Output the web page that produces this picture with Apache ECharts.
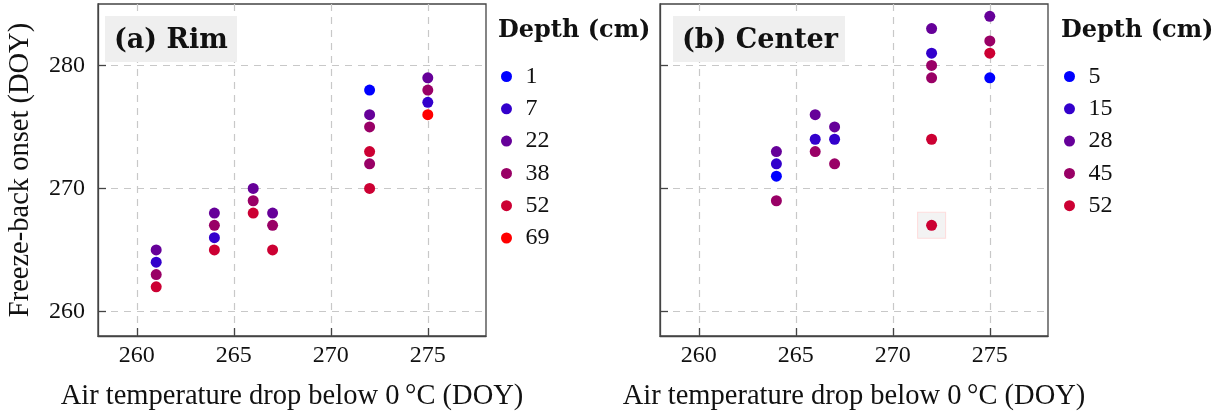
<!DOCTYPE html>
<html>
<head>
<meta charset="utf-8">
<script src="https://cdn.jsdelivr.net/npm/echarts@6/dist/echarts.min.js"></script>
<style>
html,body{margin:0;padding:0;background:#fff;}
#chart{width:1228px;height:416px;}
</style>
</head>
<body>
<div id="chart"></div>
<script>
// ---- data ----
const xTicks = [260, 265, 270, 275];
const yTicks = [260, 270, 280];

const rimDepths = ['1', '7', '22', '38', '52', '69'];
const rim_1  = [[272, 278]];
const rim_7  = [[261, 264], [264, 266], [275, 277]];
const rim_22 = [[261, 265], [264, 268], [266, 270], [267, 268], [272, 276], [275, 279]];
const rim_38 = [[261, 263], [264, 267], [266, 269], [267, 267], [272, 275], [272, 272], [275, 278]];
const rim_52 = [[261, 262], [264, 265], [266, 268], [267, 265], [272, 273], [272, 270]];
const rim_69 = [[275, 276]];
const rimSeries = [rim_1, rim_7, rim_22, rim_38, rim_52, rim_69];

const ctrDepths = ['5', '15', '28', '45', '52'];
const ctr_5  = [[264, 271], [275, 279]];
const ctr_15 = [[264, 272], [266, 274], [267, 274], [272, 281]];
const ctr_28 = [[264, 273], [266, 276], [267, 275], [272, 283], [275, 284]];
const ctr_45 = [[264, 269], [266, 273], [267, 272], [272, 280], [272, 279], [275, 282]];
const ctr_52 = [[272, 274], [272, 267], [275, 281]];
const ctrSeries = [ctr_5, ctr_15, ctr_28, ctr_45, ctr_52];
const ctrHighlight = [[272, 267]];

const rimColors = ['#0000ff', '#3300cc', '#660099', '#990066', '#cc0033', '#ff0000'];
const ctrColors = ['#0000ff', '#3300cc', '#660099', '#990066', '#cc0033'];

// ---- styles ----
const SERIF = "'Liberation Serif', serif";
const axisColor = '#444';
const gridW = 388, gridH = 334, gridTop = 4;
const lefts = [98, 660];

function xAxisCfg(i) {
  return {
    type: 'value', gridIndex: i, min: 258, max: 278,
    name: 'Air temperature drop below 0\u2009\u00b0C (DOY)',
    nameLocation: 'middle', nameGap: 46,
    nameTextStyle: {fontFamily: SERIF, fontSize: 28.5, color: '#111'},
    axisLine: {show: true, lineStyle: {color: axisColor, width: 1.3}},
    axisTick: {show: true, inside: true, length: 8, customValues: xTicks, lineStyle: {color: axisColor, width: 1.3}},
    axisLabel: {customValues: xTicks, fontFamily: SERIF, fontSize: 24, color: '#111', margin: 8},
    splitLine: {show: true, lineStyle: {color: '#c8c8c8', width: 1.2, type: [7, 6]}}
  };
}
function yAxisCfg(i) {
  return {
    type: 'value', gridIndex: i, min: 258, max: 285,
    name: i === 0 ? 'Freeze-back onset (DOY)' : '',
    nameLocation: 'middle', nameGap: 63, nameRotate: 90,
    nameTextStyle: {fontFamily: SERIF, fontSize: 28.5, color: '#111'},
    axisLine: {show: true, lineStyle: {color: axisColor, width: 1.3}},
    axisTick: {show: true, inside: true, length: 8, customValues: yTicks, lineStyle: {color: axisColor, width: 1.3}},
    axisLabel: {show: i === 0, customValues: yTicks, fontFamily: SERIF, fontSize: 24, color: '#111', margin: 13},
    splitLine: {show: true, lineStyle: {color: '#c8c8c8', width: 1.2, type: [7, 6]}}
  };
}

const series = [];
series.push({
  name: 'highlight', type: 'scatter', xAxisIndex: 1, yAxisIndex: 1,
  data: ctrHighlight, symbol: 'rect', symbolSize: [28, 26], z: 1, silent: true,
  itemStyle: {color: '#f0f0f0', borderColor: '#ffd4d4', borderWidth: 1}
});
rimDepths.forEach((d, k) => series.push({
  name: d, type: 'scatter', xAxisIndex: 0, yAxisIndex: 0, data: rimSeries[k],
  symbol: 'circle', symbolSize: 11, z: 3, itemStyle: {color: rimColors[k], opacity: 1}
}));
ctrDepths.forEach((d, k) => series.push({
  name: d, type: 'scatter', xAxisIndex: 1, yAxisIndex: 1, data: ctrSeries[k],
  symbol: 'circle', symbolSize: 11, z: 3, itemStyle: {color: ctrColors[k], opacity: 1}
}));

function legendCfg(names, iconCenterX) {
  return {
    orient: 'vertical', left: iconCenterX - 5, top: 64.5, padding: 0,
    data: names, icon: 'circle', itemWidth: 28, itemHeight: 11, itemGap: 8.3,
    selectedMode: false,
    textStyle: {fontFamily: SERIF, fontSize: 24, lineHeight: 24, color: '#111'}
  };
}

const option = {
  animation: false,
  backgroundColor: '#fff',
  grid: lefts.map(l => ({left: l, top: gridTop, width: gridW, height: gridH, show: true,
    borderColor: axisColor, borderWidth: 1.3, backgroundColor: 'transparent'})),
  xAxis: [xAxisCfg(0), xAxisCfg(1)],
  yAxis: [yAxisCfg(0), yAxisCfg(1)],
  legend: [legendCfg(rimDepths, 506), legendCfg(ctrDepths, 1069)],
  series: series,
  graphic: [
    {type: 'rect', left: 105, top: 16, shape: {width: 132, height: 46}, style: {fill: '#efefef'}, z: 10},
    {type: 'text', left: 114, top: 27, style: {text: '(a) Rim', font: "bold 27px 'DejaVu Serif', serif", fill: '#111'}, z: 11},
    {type: 'rect', left: 673, top: 16, shape: {width: 172, height: 46}, style: {fill: '#efefef'}, z: 10},
    {type: 'text', left: 682, top: 27, style: {text: '(b) Center', font: "bold 27px 'DejaVu Serif', serif", fill: '#111'}, z: 11},
    {type: 'text', left: 498, top: 19, style: {text: 'Depth (cm)', font: "bold 24px 'DejaVu Serif', serif", fill: '#111'}},
    {type: 'text', left: 1061, top: 19, style: {text: 'Depth (cm)', font: "bold 24px 'DejaVu Serif', serif", fill: '#111'}}
  ]
};

const chart = echarts.init(document.getElementById('chart'), null, {renderer: 'canvas'});
chart.setOption(option);
</script>
</body>
</html>
